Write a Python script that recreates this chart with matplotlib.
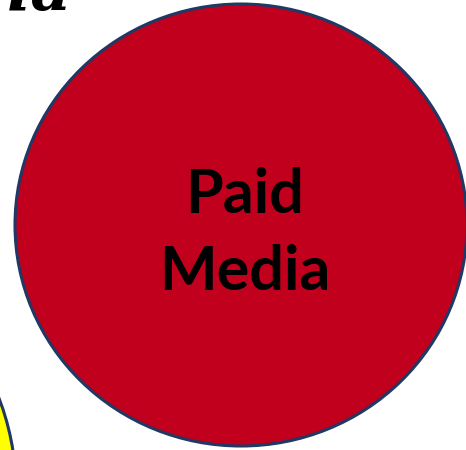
import matplotlib.pyplot as plt
from matplotlib.patches import Ellipse, Circle

# circles in the diagram (centre x, centre y, width, height), pixel units
label_lines = ['Paid', 'Media']
red_circle = (241, 225, 452, 442)
yellow_circle = (-240, 490, 256)
title_part = 'ia'

fig = plt.figure(figsize=(4.66, 4.5), dpi=100)
ax = fig.add_axes([0, 0, 1, 1])
ax.set_xlim(0, 466)
ax.set_ylim(450, 0)
ax.axis('off')

# yellow circle peeking in at bottom-left
ax.add_patch(Circle(yellow_circle[:2], yellow_circle[2], facecolor='#FFFF00',
                    edgecolor='#1F3864', linewidth=2.2))

# big red circle
cx, cy, w, h = red_circle
ax.add_patch(Ellipse((cx, cy), w, h, facecolor='#C0001D',
                     edgecolor='#1F3864', linewidth=2.2))

# label, one text per line so the spacing matches
for line, base in zip(label_lines, [213, 290]):
    ax.text(245, base, line, ha='center', va='baseline', fontsize=44,
            fontweight='bold', family='Lato', color='black')

# cut-off title text at top-left
ax.text(72, 10, title_part, ha='right', va='baseline', fontsize=46,
        fontweight='bold', fontstyle='italic', family='DejaVu Serif', color='black')

fig.savefig('out.png', dpi=100)
